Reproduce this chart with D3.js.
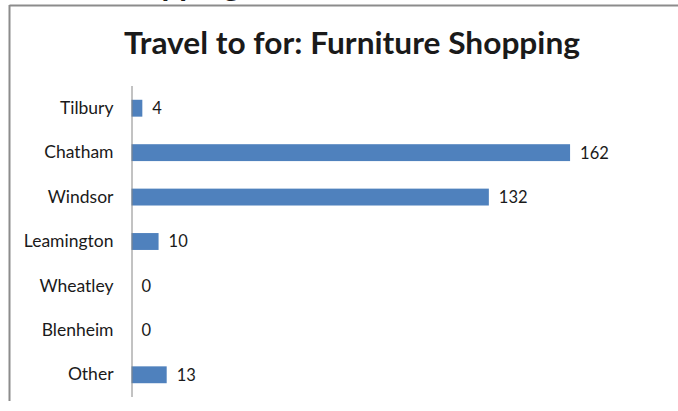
<!DOCTYPE html>
<html>
<head>
<meta charset="utf-8">
<script src="https://cdn.jsdelivr.net/npm/d3@7"></script>
<style>
  html, body { margin: 0; padding: 0; background: #fff; }
  svg { display: block; }
  text { font-family: Lato, "Open Sans", sans-serif; fill: #1a1a1a; }
</style>
</head>
<body>
<svg id="chart" width="678" height="411"></svg>
<script>
// Trips by destination for furniture shopping
const categories = ["Tilbury", "Chatham", "Windsor", "Leamington", "Wheatley", "Blenheim", "Other"];
const trips = [4, 162, 132, 10, 0, 0, 13];
const titleText = "Travel to for: Furniture Shopping";

const svg = d3.select("#chart");
const W = 678;

// title of the previous chart, sitting above the frame
svg.append("text").attr("x", 12).attr("y", -4.5).attr("text-anchor", "middle")
  .style("font-size", "31px").style("font-weight", "bold").attr("fill", "#000")
  .attr("textLength", 456).attr("lengthAdjust", "spacingAndGlyphs")
  .text(titleText);

// chart frame (left and top edges visible)
svg.append("line").attr("x1", 9.5).attr("x2", W).attr("y1", 5.5).attr("y2", 5.5)
  .attr("stroke", "#8c8c8c").attr("stroke-width", 2);
svg.append("line").attr("x1", 9.5).attr("x2", 9.5).attr("y1", 5).attr("y2", 401)
  .attr("stroke", "#8c8c8c").attr("stroke-width", 2);

// title
svg.append("text").attr("x", 352).attr("y", 54).attr("text-anchor", "middle")
  .style("font-size", "31px").style("font-weight", "bold").attr("fill", "#000")
  .attr("textLength", 456).attr("lengthAdjust", "spacingAndGlyphs")
  .text(titleText);

const x = d3.scaleLinear().domain([0, 180]).range([131.5, 618.8]);
const y = d3.scaleBand().domain(categories).range([86, 397]).paddingInner(0.62).paddingOuter(0.31);

// bars
svg.append("g").selectAll("rect").data(categories).join("rect")
  .attr("x", x(0))
  .attr("y", d => y(d))
  .attr("width", (d, i) => x(trips[i]) - x(0))
  .attr("height", y.bandwidth())
  .attr("fill", "#4f81bd");

// category axis
const axis = svg.append("g").attr("transform", `translate(${x(0)},0)`)
  .call(d3.axisLeft(y).tickSize(0).tickPadding(18));
axis.select(".domain").attr("stroke", "#868686").attr("d", `M0.5,86V397`);
axis.selectAll("text").style("font-size", "17.5px").style("font-family", "Lato, 'Open Sans', sans-serif").attr("fill", "#1a1a1a");

// value labels
svg.append("g").selectAll("text").data(categories).join("text")
  .attr("x", (d, i) => x(trips[i]) + 10)
  .attr("y", d => y(d) + y.bandwidth() / 2)
  .attr("dy", "0.36em")
  .style("font-size", "16.5px")
  .text((d, i) => trips[i]);
</script>
</body>
</html>
